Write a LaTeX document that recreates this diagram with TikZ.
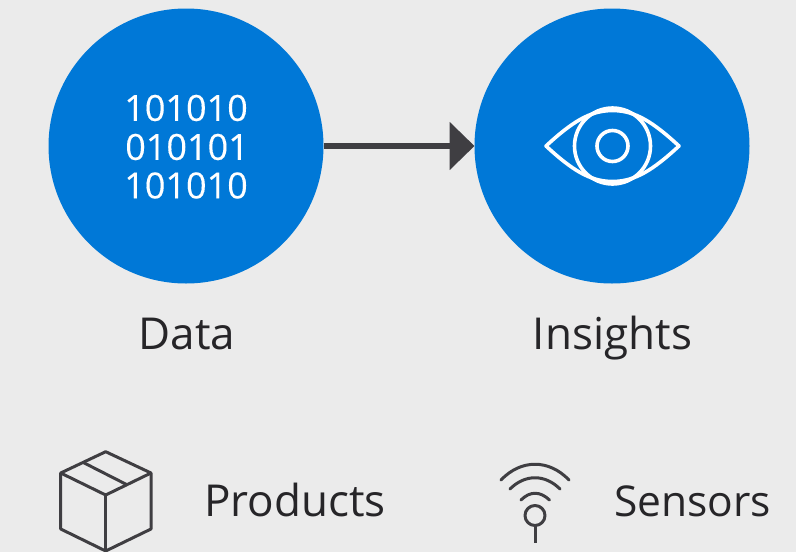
\documentclass[tikz,border=0pt]{standalone}
\usepackage{fontspec}
\setmainfont{Open Sans}
\newfontfamily\digitfont[FakeBold=0.2]{Open Sans}
\usetikzlibrary{positioning,arrows.meta}
\definecolor{bggray}{HTML}{EBEBEB}
\definecolor{azure}{HTML}{0078D7}
\definecolor{inkgray}{HTML}{3F3E42}
\tikzset{
  disc/.style={circle,fill=azure,minimum size=275pt,inner sep=0pt,outer sep=0pt},
  caption/.style={text=inkgray!60!black,font=\fontsize{44}{44}\selectfont,inner sep=0pt},
  bits/.style={text=white,font=\digitfont\fontsize{36}{36}\selectfont,inner sep=0pt},
  eyeline/.style={draw=white,line width=3.6pt,line join=round},
  iconline/.style={draw=inkgray,line width=3pt,line join=round},
  flow/.style={draw=inkgray,line width=6pt,-{Triangle[length=25pt,width=47pt]}}
}

\begin{document}
\begin{tikzpicture}[x=1pt,y=-1pt]
            \useasboundingbox (0,0) rectangle (796,552);
            \fill[bggray] (0,0) rectangle (796,552);

            \node[disc] (data) at (186,146) {};
            \node[disc] (insights) at (612,146) {};
            \draw[flow] (data) -- (insights);

            \node[bits] (row1) at (186,108) {101010};
            \node[bits] (row2) at (187,147) {010101};
            \node[bits] (row3) at (186,185.5) {101010};

            \draw[eyeline] (546,146) .. controls (572,122) and (590,110.5) .. (612.5,110.5)
                           .. controls (635,110.5) and (653,122) .. (679,146)
                           .. controls (653,170) and (635,181.5) .. (612.5,181.5)
                           .. controls (590,181.5) and (572,170) .. cycle;
            \draw[eyeline] (612.5,146) circle (38);
            \draw[eyeline] (612.5,146) circle (15.5);

            \node[caption,anchor=base] (datalabel) at (187,349) {Data};
            \node[caption,anchor=base] (insightslabel) at (612.5,349) {Insights};

            \draw[iconline] (60.7,473) -- (105.7,451.7) -- (151,473) -- (151,529) -- (105.7,551)
                            -- (60.7,529) -- cycle;
            \draw[iconline] (60.7,473) -- (105.7,495) -- (151,473);
            \draw[iconline] (105.7,495) -- (105.7,551);
            \draw[iconline] (83.3,462.5) -- (127.5,485);
            \node[caption,anchor=base west] (products) at (204,516) {Products};

            \draw[iconline,line cap=round] (501,480) .. controls (521,459) and (549,459) .. (569,480);
            \draw[iconline,line cap=round] (510,489) .. controls (525,474) and (545,474) .. (560,489);
            \draw[iconline,line cap=round] (521,500) .. controls (530,491) and (540,491) .. (549.5,500);
            \draw[iconline] (535,515.5) circle (10);
            \draw[iconline] (535,525.5) -- (535,543);
            \node[caption,anchor=base west,font=\fontsize{42.5}{44}\selectfont] (sensors) at (614,516) {Sensors};
\end{tikzpicture}
\end{document}
